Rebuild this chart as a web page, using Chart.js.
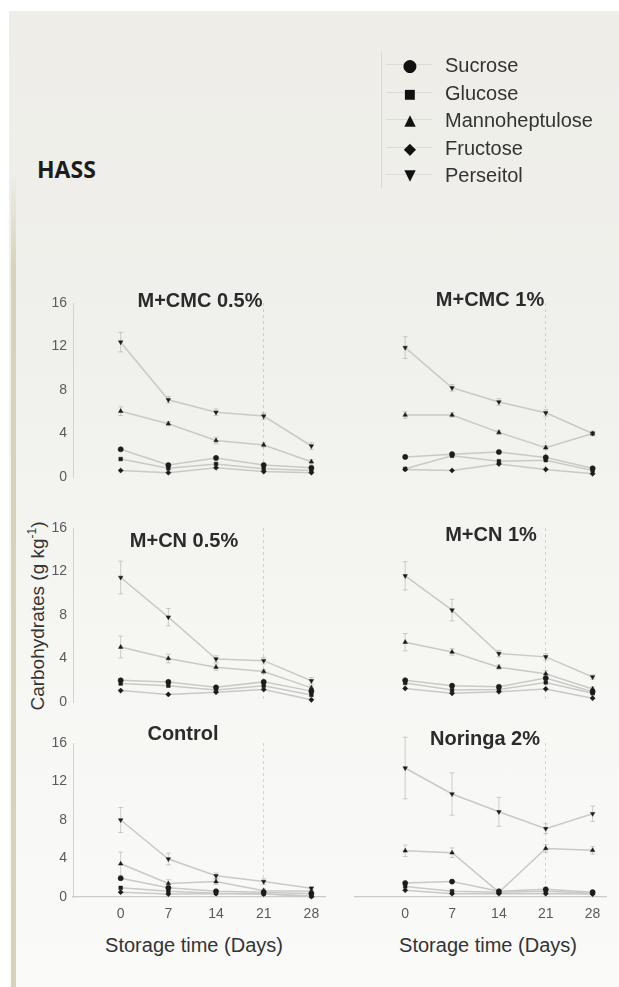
<!DOCTYPE html>
<html>
<head>
<meta charset="utf-8">
<script src="https://cdn.jsdelivr.net/npm/chart.js@4.4.1/dist/chart.umd.min.js"></script>
<style>
html, body { margin: 0; padding: 0; background: #fff; }
body { width: 619px; height: 987px; position: relative; overflow: hidden; font-family: "Liberation Sans", Arial, sans-serif; }
#bg { position: absolute; left: 9px; top: 11px; right: 0; bottom: 0;
      background: linear-gradient(#eeede8 0%, #f0f0ec 35%, #f6f6f3 65%, #fafaf9 100%); }
#stripe { position: absolute; left: 11px; top: 170px; width: 5px; bottom: 0;
          background: linear-gradient(rgba(214,211,184,0), #d6d3b8 12%); }
canvas { position: absolute; left: 0; top: 0; }
.t { position: absolute; white-space: nowrap; transform: translate(-50%, -50%); color: #2b2b2b; }
.ptitle { font-weight: bold; font-size: 20px; }
.xtitle { font-size: 20px; color: #333; }
#ytitle { position: absolute; left: 37px; top: 616px; transform: translate(-50%, -50%) rotate(-90deg);
          white-space: nowrap; font-size: 19px; color: #333; }
#ytitle sup { font-size: 12px; }
#hass { position: absolute; left: 37px; top: 153px; font-family: "Open Sans", sans-serif; font-weight: bold; font-size: 23px; color: #1c1c1c; }
#legline { position: absolute; left: 381px; top: 52px; width: 1px; height: 136px; background: #d8d8d4; }
.lrow { position: absolute; left: 384px; height: 24px; width: 230px; }
.lrow .seg { position: absolute; left: 2px; top: 11px; width: 46px; height: 1px; background: rgba(0,0,0,0.08); }
.lrow .g { position: absolute; left: 26px; top: 12px; transform: translate(-50%, -50%); font-family: "DejaVu Sans", sans-serif; color: #111; }
.lrow .n { position: absolute; left: 61px; top: 12px; transform: translateY(-50%); font-size: 20px; color: #333; }
</style>
</head>
<body>
<div id="bg"></div>
<div id="stripe"></div>
<div id="hass">HASS</div>
<div id="legline"></div>
<div id="ytitle">Carbohydrates (g kg<sup>-1</sup>)</div>
<div class="t xtitle" style="left:194px; top:945px;">Storage time (Days)</div>
<div class="t xtitle" style="left:488px; top:945px;">Storage time (Days)</div>
<script>
const days = [0, 7, 14, 21, 28];
const yTicks = [0, 4, 8, 12, 16];
const seriesNames = ['Sucrose', 'Glucose', 'Mannoheptulose', 'Fructose', 'Perseitol'];
const seriesShapes = ['circle', 'rect', 'triangle', 'rectRot', 'triangle'];
const legendGlyphs = ['●', '■', '▲', '◆', '▼'];
const panelTitles = ['M+CMC 0.5%', 'M+CMC 1%', 'M+CN 0.5%', 'M+CN 1%', 'Control', 'Noringa 2%'];

// values per panel, rows follow seriesNames (g kg-1)
const cmc05 = [
  [2.55, 1.1, 1.75, 1.1, 0.85],
  [1.65, 0.8, 1.2, 0.75, 0.6],
  [6.05, 4.9, 3.35, 2.95, 1.4],
  [0.6, 0.4, 0.85, 0.5, 0.4],
  [12.4, 7.1, 5.95, 5.6, 2.85]
];
const cmc1 = [
  [1.85, 2.1, 2.3, 1.8, 0.8],
  [0.75, 1.95, 1.45, 1.55, 0.6],
  [5.7, 5.7, 4.1, 2.7, 4.0],
  [0.7, 0.6, 1.2, 0.7, 0.3],
  [11.9, 8.2, 6.9, 5.9, 4.0]
];
const cn05 = [
  [2.0, 1.85, 1.35, 1.85, 1.0],
  [1.7, 1.5, 1.1, 1.5, 0.65],
  [5.05, 4.0, 3.2, 2.8, 1.3],
  [1.05, 0.7, 0.9, 1.15, 0.2],
  [11.45, 7.8, 3.95, 3.8, 1.95]
];
const cn1 = [
  [2.0, 1.5, 1.4, 2.2, 0.95],
  [1.75, 1.1, 1.15, 1.8, 0.8],
  [5.5, 4.6, 3.2, 2.6, 1.2],
  [1.25, 0.8, 0.95, 1.2, 0.35],
  [11.6, 8.45, 4.45, 4.15, 2.3]
];
const control = [
  [1.95, 0.95, 0.6, 0.5, 0.35],
  [0.95, 0.6, 0.4, 0.35, 0.1],
  [3.45, 1.4, 1.6, 0.65, 0.6],
  [0.5, 0.3, 0.35, 0.3, 0.05],
  [8.0, 3.95, 2.2, 1.6, 0.9]
];
const moringa = [
  [1.45, 1.6, 0.6, 0.8, 0.5],
  [1.1, 0.6, 0.5, 0.6, 0.4],
  [4.8, 4.6, 0.5, 5.05, 4.85],
  [0.7, 0.35, 0.35, 0.35, 0.3],
  [13.4, 10.7, 8.85, 7.1, 8.65]
];

// error bars: [Mannoheptulose, Perseitol]
const cmc05Err = [[0.4, 0.2, 0.3, 0.2, 0.2], [0.9, 0.3, 0.3, 0.3, 0.3]];
const cmc1Err = [[0.3, 0.2, 0.2, 0.2, 0.2], [1.0, 0.3, 0.3, 0.3, 0.2]];
const cn05Err = [[1.0, 0.4, 0.3, 0.2, 0.2], [1.5, 0.8, 0.3, 0.3, 0.3]];
const cn1Err = [[0.8, 0.3, 0.2, 0.3, 0.2], [1.3, 1.0, 0.3, 0.3, 0.2]];
const controlErr = [[1.2, 0.4, 0.3, 0.2, 0.2], [1.3, 0.6, 0.3, 0.3, 0.2]];
const moringaErr = [[0.6, 0.5, 0.2, 0.4, 0.4], [3.2, 2.2, 1.5, 0.5, 0.8]];

// layout of the grid of panels
const cols = [
  { left: 73, right: 325, min: -7, max: 30, yW: 40 },
  { left: 355, right: 606, min: -7.5, max: 30, yW: 0 }
];
const rows = [
  { top: 303, bottom: 477, xH: 0 },
  { top: 528, bottom: 702, xH: 0 },
  { top: 743, bottom: 897, xH: 34 }
];
const titlePos = [[200, 300], [490, 299], [184, 540], [491, 534], [183, 733], [485, 738]];

const errorBars = {
  id: 'errorBars',
  beforeDatasetsDraw(chart) {
    const { ctx, scales: { x, y } } = chart;
    ctx.save();
    ctx.strokeStyle = 'rgba(110,110,110,0.3)';
    ctx.lineWidth = 1;
    chart.data.datasets.forEach(ds => {
      if (!ds.errors) return;
      ds.data.forEach((p, i) => {
        const e = ds.errors[i];
        if (!e) return;
        const px = x.getPixelForValue(p.x);
        const top = y.getPixelForValue(p.y + e), bot = y.getPixelForValue(p.y - e);
        ctx.beginPath();
        ctx.moveTo(px, top); ctx.lineTo(px, bot);
        ctx.moveTo(px - 2.5, top); ctx.lineTo(px + 2.5, top);
        ctx.moveTo(px - 2.5, bot); ctx.lineTo(px + 2.5, bot);
        ctx.stroke();
      });
    });
    ctx.restore();
  }
};

const tickFont = { family: 'Liberation Sans', size: 14 };

function makePanel(i, vals, errs) {
  const col = cols[i % 2], row = rows[Math.floor(i / 2)];
  const canvas = document.createElement('canvas');
  canvas.width = 619; canvas.height = 987;
  document.body.appendChild(canvas);

  const datasets = seriesNames.map((name, s) => ({
    label: name,
    data: days.map((d, k) => ({ x: d, y: vals[s][k] })),
    errors: s === 2 ? errs[0] : s === 4 ? errs[1] : null,
    borderColor: '#c9c9c5',
    borderWidth: 1.5,
    pointStyle: seriesShapes[s],
    pointRotation: s === 4 ? 180 : 0,
    pointRadius: 2.6,
    pointBackgroundColor: '#1c1c1c',
    pointBorderColor: '#1c1c1c',
    pointBorderWidth: 0.5,
    tension: 0,
    clip: false
  }));

  new Chart(canvas, {
    type: 'line',
    data: { datasets },
    options: {
      responsive: false,
      animation: false,
      events: [],
      layout: { padding: { left: col.left - col.yW, right: 619 - col.right, top: row.top, bottom: 987 - row.bottom - row.xH } },
      plugins: { legend: { display: false }, tooltip: { enabled: false } },
      scales: {
        x: {
          type: 'linear', min: col.min, max: col.max,
          afterBuildTicks: s => { s.ticks = days.map(v => ({ value: v })); },
          afterFit: s => { s.height = row.xH; },
          grid: { drawTicks: false, lineWidth: 1,
                  color: c => (c.tick && c.tick.value === 21) ? 'rgba(0,0,0,0.14)' : 'rgba(0,0,0,0)' },
          border: { display: row.xH > 0, color: '#cacac6', width: 1.2, dash: [3, 3] },
          ticks: { display: row.xH > 0, padding: 9, color: '#5a5a5a', font: tickFont }
        },
        y: {
          display: col.yW > 0, min: 0, max: 16,
          afterBuildTicks: s => { s.ticks = yTicks.map(v => ({ value: v })); },
          afterFit: s => { s.width = col.yW; },
          grid: { display: false, drawTicks: false },
          border: { display: true, color: '#d2d2ce', width: 1 },
          ticks: { padding: 6, color: '#5a5a5a', font: tickFont }
        }
      }
    },
    plugins: [errorBars]
  });

  const t = document.createElement('div');
  t.className = 't ptitle';
  t.style.left = titlePos[i][0] + 'px';
  t.style.top = titlePos[i][1] + 'px';
  t.textContent = panelTitles[i];
  document.body.appendChild(t);
}

[[cmc05, cmc05Err], [cmc1, cmc1Err], [cn05, cn05Err], [cn1, cn1Err], [control, controlErr], [moringa, moringaErr]]
  .forEach((p, i) => makePanel(i, p[0], p[1]));

// legend
const glyphSize = [17, 13, 15, 16, 15];
seriesNames.forEach((name, s) => {
  const r = document.createElement('div');
  r.className = 'lrow';
  r.style.top = (53 + s * 27.5) + 'px';
  r.innerHTML = '<div class="seg"></div><div class="g" style="font-size:' + glyphSize[s] + 'px">' +
    legendGlyphs[s] + '</div><div class="n">' + name + '</div>';
  document.body.appendChild(r);
});
</script>
</body>
</html>
